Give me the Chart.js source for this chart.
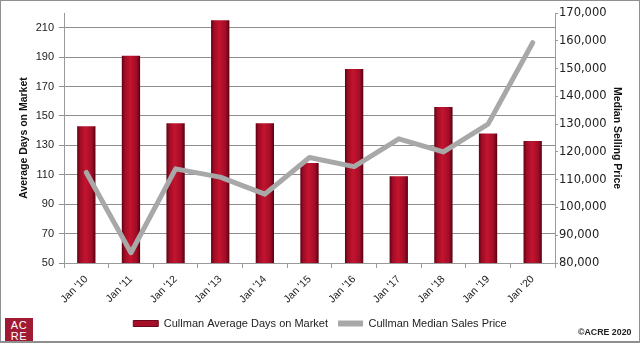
<!DOCTYPE html>
<html>
<head>
<meta charset="utf-8">
<script src="https://cdn.jsdelivr.net/npm/chart.js@4.4.0/dist/chart.umd.min.js"></script>
<style>
  html, body { margin: 0; padding: 0; background: #fff; }
  #wrap { position: relative; width: 640px; height: 343px; overflow: hidden; }
  #frame { position: absolute; left: 0; top: 0; width: 640px; height: 343px; box-sizing: border-box;
           border: 1px solid #8f8f8f; border-bottom-width: 2px; pointer-events: none; }
  #logo { position: absolute; left: 5px; top: 318px; width: 28px; height: 25px; background: #a01a33;
          color: #fff; font-family: "Liberation Sans", Arial, sans-serif; font-size: 11px; line-height: 10.5px;
          text-align: center; padding-top: 2px; box-sizing: border-box; letter-spacing: 0.5px; }
  #copy { position: absolute; left: 578px; top: 327px; font-family: "Liberation Sans", Arial, sans-serif;
          font-weight: bold; font-size: 8.8px; color: #222; white-space: nowrap; }
</style>
</head>
<body>
<div id="wrap">
  <canvas id="c" width="640" height="343"></canvas>
  <div id="logo">AC<br>RE</div>
  <div id="copy">©ACRE 2020</div>
  <div id="frame"></div>
</div>
<script>
const categories = ["Jan '10", "Jan '11", "Jan '12", "Jan '13", "Jan '14", "Jan '15", "Jan '16", "Jan '17", "Jan '18", "Jan '19", "Jan '20"];
const avgDaysOnMarket = [143, 191, 145, 215, 145, 118, 182, 109, 156, 138, 133];
const medianSalesPrice = [112600, 83700, 113900, 110900, 104800, 118000, 114700, 124700, 120000, 130000, 159300];
const leftTicks = [50, 70, 90, 110, 130, 150, 170, 190, 210];
const rightTicks = [80000, 90000, 100000, 110000, 120000, 130000, 140000, 150000, 160000, 170000];

const BAR_PCT = 0.41;
function barFill(context) {
  const chart = context.chart;
  const xs = chart.scales.x;
  if (!xs || xs.width === 0 || context.dataIndex === undefined) return '#b0122c';
  const cx = xs.getPixelForValue(context.dataIndex);
  const w = (xs.width / categories.length) * BAR_PCT;
  const g = chart.ctx.createLinearGradient(cx - w / 2, 0, cx + w / 2, 0);
  g.addColorStop(0, '#5c0010');
  g.addColorStop(0.15, '#9c0c25');
  g.addColorStop(0.45, '#c4142f');
  g.addColorStop(0.8, '#a10d27');
  g.addColorStop(1, '#560010');
  return g;
}

const gridGray = '#8e8e8e';
const axisGray = '#9a9a9a';

new Chart(document.getElementById('c'), {
  data: {
    labels: categories,
    datasets: [
      {
        type: 'bar',
        label: 'Cullman Average Days on Market',
        data: avgDaysOnMarket,
        yAxisID: 'y',
        backgroundColor: barFill,
        borderColor: '#6a0a1c',
        borderWidth: 0,
        barPercentage: BAR_PCT,
        categoryPercentage: 1.0,
        order: 1
      },
      {
        type: 'line',
        label: 'Cullman Median Sales Price',
        data: medianSalesPrice,
        yAxisID: 'y1',
        borderColor: '#a8a8a8',
        backgroundColor: '#a8a8a8',
        borderWidth: 5,
        pointRadius: 0,
        tension: 0,
        borderCapStyle: 'round',
        borderJoinStyle: 'round',
        fill: false,
        order: 0
      }
    ]
  },
  options: {
    responsive: false,
    animation: false,
    devicePixelRatio: 1,
    layout: { padding: { top: 13, left: 0, right: 0, bottom: 4 } },
    plugins: {
      tooltip: { enabled: false },
      legend: {
        position: 'bottom',
        align: 'center',
        labels: {
          font: { family: '"Liberation Sans", Arial, sans-serif', size: 11 },
          color: '#222',
          boxWidth: 25,
          boxHeight: 6,
          padding: 10,
          sort: (a, b) => a.datasetIndex - b.datasetIndex,
          generateLabels: (chart) => chart.data.datasets.map((ds, i) => ({
            text: ds.label,
            fillStyle: ds.type === 'bar' ? '#a50f28' : '#a8a8a8',
            strokeStyle: ds.type === 'bar' ? '#6a0a1c' : '#a8a8a8',
            lineWidth: ds.type === 'bar' ? 1 : 0,
            hidden: false,
            datasetIndex: i,
            fontColor: '#222'
          }))
        }
      }
    },
    scales: {
      x: {
        offset: true,
        grid: { display: true, drawOnChartArea: false, offset: true, color: axisGray, tickLength: 5 },
        border: { display: true, color: axisGray },
        ticks: {
          minRotation: 45, maxRotation: 45, autoSkip: false, padding: 5,
          color: '#222',
          font: { family: '"Liberation Sans", Arial, sans-serif', size: 10.5 }
        },
        afterFit: (s) => { s.height = 45; }
      },
      y: {
        position: 'left',
        min: 50, max: 220,
        afterBuildTicks: (s) => { s.ticks = leftTicks.map(v => ({ value: v })); },
        grid: { color: gridGray, tickLength: 5, drawTicks: true },
        border: { display: true, color: axisGray },
        ticks: {
          color: '#222', padding: 5,
          font: { family: '"Liberation Sans", Arial, sans-serif', size: 11 }
        },
        title: {
          display: true, text: 'Average Days on Market', color: '#111',
          font: { family: '"Liberation Sans", Arial, sans-serif', size: 10.5, weight: 'bold' },
          padding: { top: 18, bottom: 0 }
        },
        afterFit: (s) => { s.width = 64; }
      },
      y1: {
        position: 'right',
        min: 80000, max: 170000,
        afterBuildTicks: (s) => { s.ticks = rightTicks.map(v => ({ value: v })); },
        grid: { drawOnChartArea: false, color: axisGray, tickLength: 3 },
        border: { display: true, color: axisGray },
        ticks: {
          color: '#222', padding: 1,
          font: { family: '"DejaVu Sans", Verdana, sans-serif', size: 11.5 },
          callback: (v) => Number(v).toLocaleString('en-US')
        },
        title: {
          display: true, text: 'Median Selling Price', color: '#111',
          font: { family: '"Liberation Sans", Arial, sans-serif', size: 10.5, weight: 'bold' },
          padding: { top: 17, bottom: 0 }
        },
        afterFit: (s) => { s.width = 85; }
      }
    }
  }
});
</script>
</body>
</html>
